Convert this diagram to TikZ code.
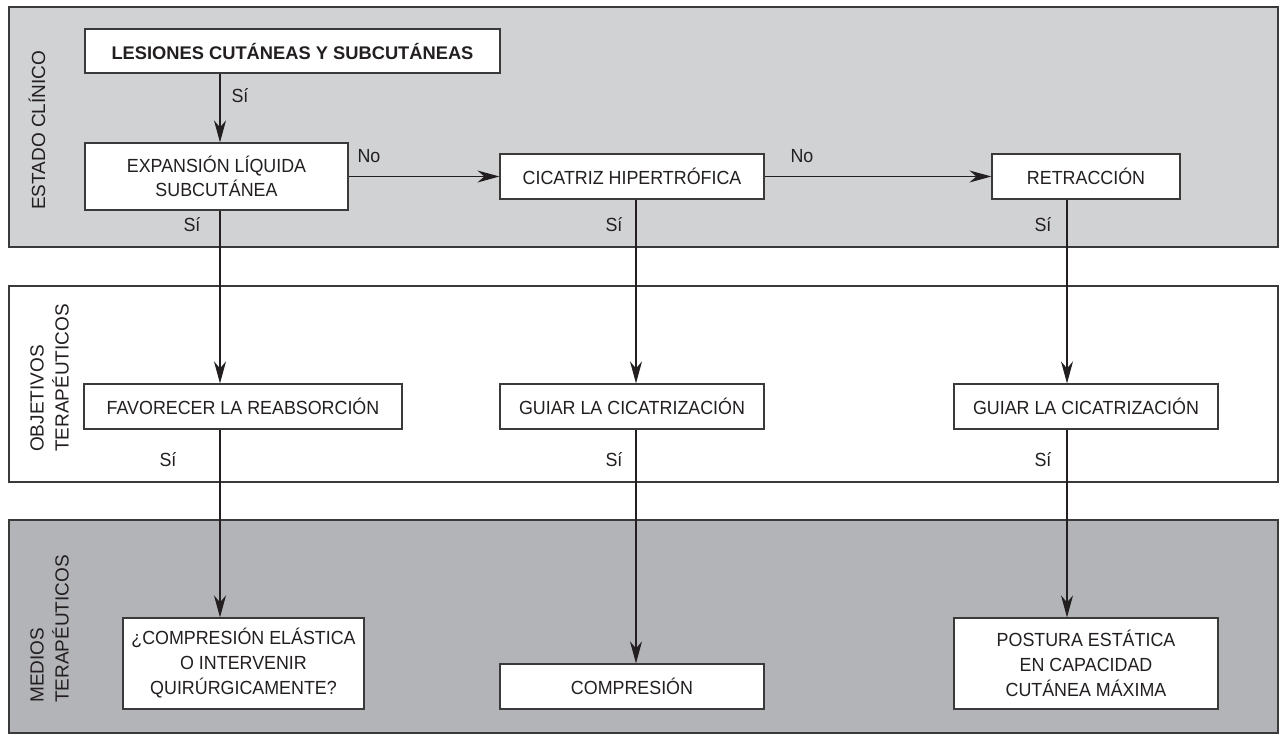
\documentclass[tikz,border=0pt]{standalone}
\usepackage{fontspec}
\setmainfont{Liberation Sans}[FakeStretch=0.94]
\newfontfamily\widesans{Liberation Sans}
\usetikzlibrary{arrows.meta}
\definecolor{bandlight}{HTML}{D1D2D4}
\definecolor{banddark}{HTML}{B3B4B7}
\definecolor{rule}{HTML}{3A3A3A}
\definecolor{ink}{HTML}{231F20}
\begin{document}
\begin{tikzpicture}[x=1pt,y=-1pt,
  font=\fontsize{19}{25}\selectfont,
  band/.style={draw=rule,line width=1.3pt},
  box/.style={draw=rule,fill=white,line width=1.2pt,inner sep=0pt,
    align=center,text=ink},
  lbl/.style={text=ink,inner sep=0pt,anchor=base},
  side/.style={text=ink,inner sep=0pt,rotate=90,anchor=west,align=left,
    font=\widesans\fontsize{19}{25}\selectfont},
  arr/.style={draw=ink,line width=1.1pt,
    -{Stealth[length=22pt,width=12pt,inset=7pt]}},
  link/.style={draw=ink,line width=1.1pt}]
\useasboundingbox (0,0) rectangle (1285,743);

% the three horizontal bands
\path[band,fill=bandlight] (9,7) rectangle (1278,247);
\path[band,fill=white] (9,286) rectangle (1278,482);
\path[band,fill=banddark] (9,520) rectangle (1278,733);

% band titles, read bottom to top
\node[side] (tclin) at (37,210) {ESTADO CLÍNICO};
\node[side] (tobj) at (49.5,452) {OBJETIVOS\\TERAPÉUTICOS};
\node[side] (tmed) at (49.5,703) {MEDIOS\\TERAPÉUTICOS};

% column axes of the vertical connectors
\coordinate (ca) at (220,0);
\coordinate (cb) at (636,0);
\coordinate (cc) at (1067,0);

% clinical state
\node[box,minimum width=415pt,minimum height=44pt,font=\widesans\fontsize{18.3}{25}\selectfont\bfseries]
  (lesiones) at (292.5,51) {LESIONES CUTÁNEAS Y SUBCUTÁNEAS};
\node[box,minimum width=263pt,minimum height=67pt,font=\fontsize{19}{23.5}\selectfont]
  (expansion) at (216.5,176.5) {EXPANSIÓN LÍQUIDA\\SUBCUTÁNEA};
\node[box,minimum width=264pt,minimum height=45pt]
  (cicatriz) at (632,176.5) {CICATRIZ HIPERTRÓFICA};
\node[box,minimum width=188pt,minimum height=45pt]
  (retraccion) at (1086,176.5) {RETRACCIÓN};

% therapeutic goals
\node[box,minimum width=318pt,minimum height=45pt]
  (favorecer) at (243,406.5) {FAVORECER LA REABSORCIÓN};
\node[box,minimum width=264pt,minimum height=45pt]
  (guiarA) at (632,406.5) {GUIAR LA CICATRIZACIÓN};
\node[box,minimum width=264pt,minimum height=45pt]
  (guiarB) at (1086,406.5) {GUIAR LA CICATRIZACIÓN};

% therapeutic means
\node[box,minimum width=241pt,minimum height=91pt]
  (elastica) at (243.5,663.5) {¿COMPRESIÓN ELÁSTICA\\O INTERVENIR\\QUIRÚRGICAMENTE?};
\node[box,minimum width=264pt,minimum height=45pt]
  (compresion) at (632,686.5) {COMPRESIÓN};
\node[box,minimum width=264pt,minimum height=91pt]
  (postura) at (1086,663.5) {POSTURA ESTÁTICA\\EN CAPACIDAD\\CUTÁNEA MÁXIMA};

% connectors
\draw[arr] (lesiones.south -| ca) -- (expansion.north -| ca);
\draw[arr] (expansion.east) -- (cicatriz.west);
\draw[arr] (cicatriz.east) -- (retraccion.west);
\draw[arr] (expansion.south -| ca) -- (favorecer.north -| ca);
\draw[arr] (cicatriz.south -| cb) -- (guiarA.north -| cb);
\draw[arr] (retraccion.south -| cc) -- (guiarB.north -| cc);
\draw[arr] (favorecer.south -| ca) -- (elastica.north -| ca);
\draw[arr] (guiarA.south -| cb) -- (compresion.north -| cb);
\draw[arr] (guiarB.south -| cc) -- (postura.north -| cc);

% branch labels
\node[lbl] (s1) at (240,103) {Sí};
\node[lbl] (n1) at (369,163) {No};
\node[lbl] (n2) at (802,163) {No};
\node[lbl] (s2) at (192,232) {Sí};
\node[lbl] (s3) at (614,232) {Sí};
\node[lbl] (s4) at (1043,232) {Sí};
\node[lbl] (s5) at (168,466) {Sí};
\node[lbl] (s6) at (614,466) {Sí};
\node[lbl] (s7) at (1043,466) {Sí};
\end{tikzpicture}
\end{document}
